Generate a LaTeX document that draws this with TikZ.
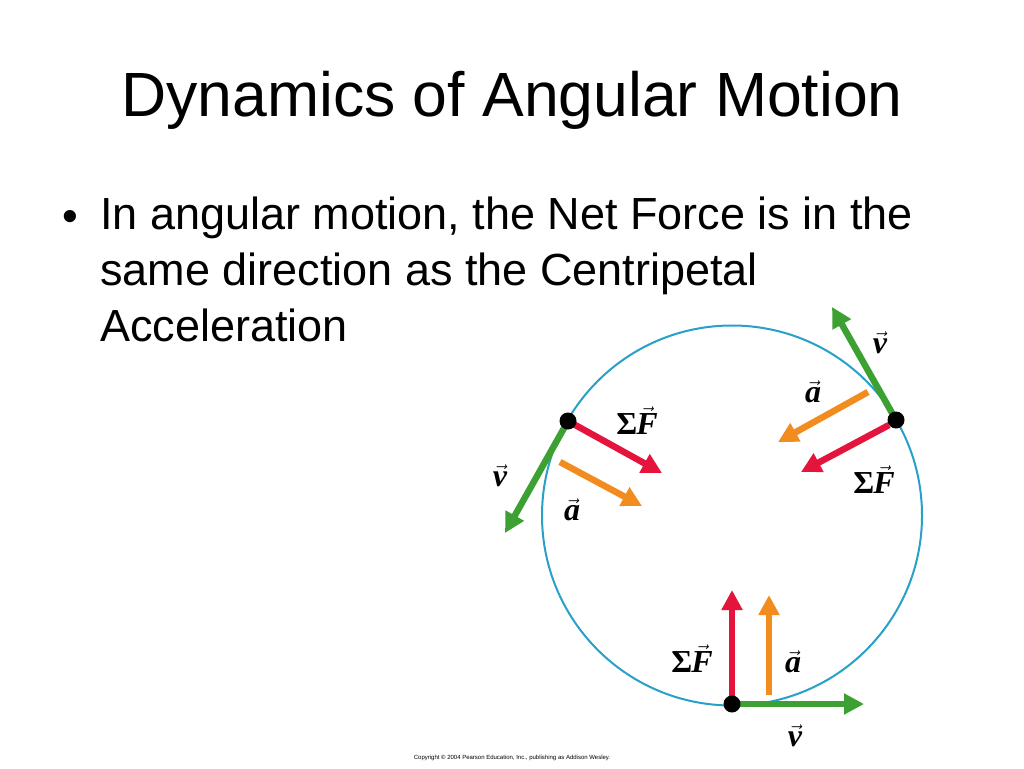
\documentclass[tikz,border=0pt]{standalone}
\usepackage{fontspec}
\setmainfont{Liberation Sans}
\newfontfamily\lbl{Liberation Serif}
\usetikzlibrary{arrows.meta}
\definecolor{gr}{RGB}{60,160,50}
\definecolor{rd}{RGB}{228,20,60}
\definecolor{or}{RGB}{242,140,30}
\definecolor{cy}{RGB}{40,160,200}
\tikzset{vec/.style={line width=6.5pt,-{Triangle[length=20pt,width=20pt]}},
 lab/.style={font=\lbl\bfseries\itshape\fontsize{32}{32}\selectfont,inner sep=0pt},
 dot/.style={circle,fill=black,inner sep=0pt,minimum size=17pt}}
\newcommand{\vv}[1]{\ensuremath{\vec{\mbox{#1}}}}
\newcommand{\sumF}{{\upshape Σ}\kern-1pt\vv{F}}
\begin{document}
\begin{tikzpicture}[x=1pt,y=-1pt]
\useasboundingbox[fill=white] (0,0) rectangle (1024,768);
\node[font=\fontsize{62.5}{62.5}\selectfont] (title) at (512,100) {Dynamics of Angular Motion};
\node[anchor=west,inner sep=0pt,font=\fontsize{45}{45}\selectfont] (bdot) at (62,221) {•};
\node[anchor=north west,align=left,font=\fontsize{45}{56}\selectfont,inner sep=0pt] (bul) at (100,197)
 {In angular motion, the Net Force is in the\\same direction as the Centripetal\\Acceleration};
\draw[cy,line width=2pt] (732,515.5) circle (190);
% left
\coordinate (L) at (568,421);
\coordinate (Lv) at (505,533); \coordinate (LF) at (662,473);
\coordinate (La0) at (560,462); \coordinate (La) at (642,506);
\draw[vec,gr] (L) -- (Lv);
\draw[vec,rd] (L) -- (LF);
\draw[vec,or] (La0) -- (La);
\node[dot] (Ld) at (L) {};
\node[lab] (l1) at (637,421) {\sumF};
\node[lab] (l2) at (500,476) {\vv{v}};
\node[lab] (l3) at (572,510) {\vv{a}};
% right
\coordinate (R) at (896,420);
\coordinate (Rv) at (832,307); \coordinate (RF) at (801,472);
\coordinate (Ra0) at (868,392); \coordinate (Ra) at (778,442);
\draw[vec,gr] (R) -- (Rv);
\draw[vec,rd] (889,425) -- (RF);
\draw[vec,or] (Ra0) -- (Ra);
\node[dot] (Rd) at (R) {};
\node[lab] (r1) at (880,343) {\vv{v}};
\node[lab] (r2) at (813,392) {\vv{a}};
\node[lab] (r3) at (874,480) {\sumF};
% bottom
\coordinate (B) at (732,704);
\coordinate (Bv) at (864,704); \coordinate (BF) at (732,590);
\coordinate (Ba0) at (769,695); \coordinate (Ba) at (769,595);
\draw[vec,gr] (B) -- (Bv);
\draw[vec,rd] (732,697) -- (BF);
\draw[vec,or] (Ba0) -- (Ba);
\node[dot] (Bd) at (B) {};
\node[lab] (b1) at (692,659) {\sumF};
\node[lab] (b2) at (793,662) {\vv{a}};
\node[lab] (b3) at (795,736) {\vv{v}};
\node[font=\fontsize{6}{6}\selectfont,inner sep=0pt] (copy) at (512,758) {Copyright © 2004 Pearson Education, Inc., publishing as Addison Wesley.};
\end{tikzpicture}
\end{document}
